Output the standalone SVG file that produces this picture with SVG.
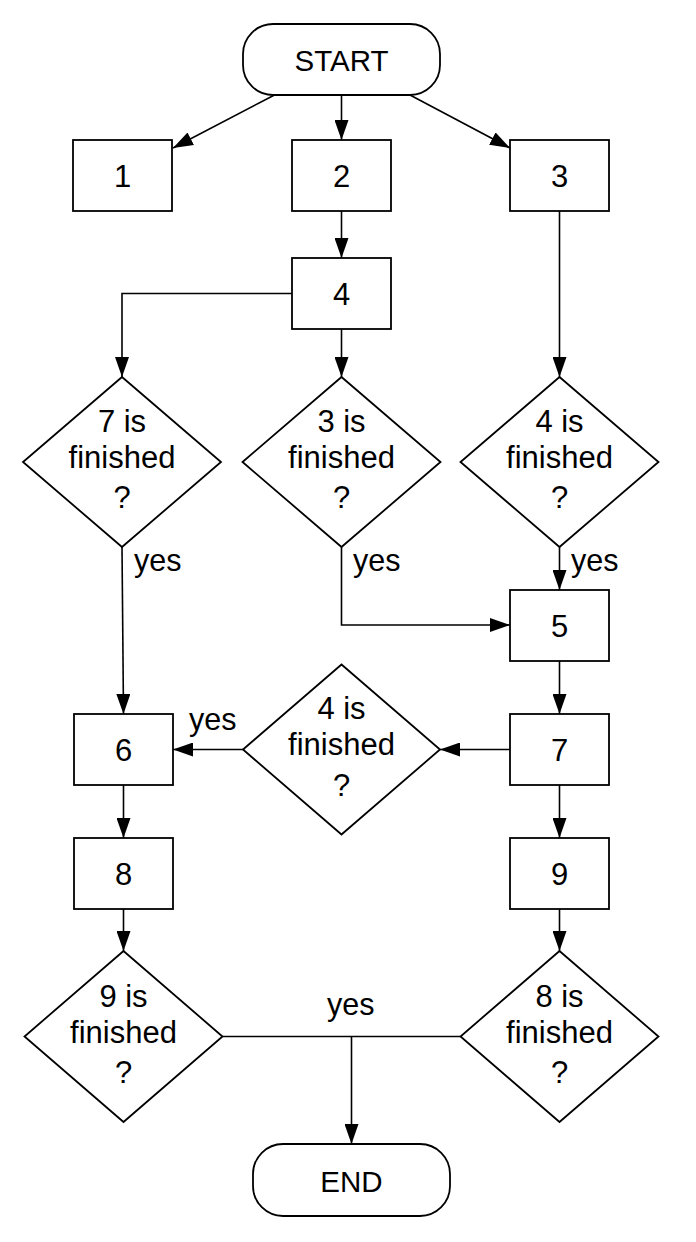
<svg xmlns="http://www.w3.org/2000/svg" width="696" height="1242" viewBox="0 0 696 1242">
<style>
.shape{fill:#fff;stroke:#000;stroke-width:1.8}
.conn{fill:none;stroke:#000;stroke-width:1.6}
.t{font-family:"Liberation Sans",Arial,sans-serif;font-size:31px;fill:#000;text-anchor:middle}
.term{font-family:"Liberation Sans",Arial,sans-serif;font-size:29.5px;fill:#000;text-anchor:middle}
.lbl{font-family:"Liberation Sans",Arial,sans-serif;font-size:30.5px;fill:#000}
</style>
<defs>
<marker id="arr" markerUnits="userSpaceOnUse" markerWidth="20" markerHeight="14" viewBox="0 0 20 14" refX="20" refY="7" orient="auto">
<path d="M0,0 L20,7 L0,14 z" fill="#000"/>
</marker>
</defs>
<rect width="696" height="1242" fill="#fff"/>
<g id="connectors">
<path class="conn" d="M274.5,95 L173,148" marker-end="url(#arr)"/>
<path class="conn" d="M341.5,95 V140" marker-end="url(#arr)"/>
<path class="conn" d="M410,95 L510,148" marker-end="url(#arr)"/>
<path class="conn" d="M341.5,211 V258" marker-end="url(#arr)"/>
<path class="conn" d="M292,293.5 H122 V377" marker-end="url(#arr)"/>
<path class="conn" d="M341.5,329 V377" marker-end="url(#arr)"/>
<path class="conn" d="M559.5,211 V377" marker-end="url(#arr)"/>
<path class="conn" d="M122,547 L123.5,714" marker-end="url(#arr)"/>
<path class="conn" d="M341.5,547 V625 H510" marker-end="url(#arr)"/>
<path class="conn" d="M559.5,547 V590" marker-end="url(#arr)"/>
<path class="conn" d="M559.5,661 V714" marker-end="url(#arr)"/>
<path class="conn" d="M510,749.5 H440" marker-end="url(#arr)"/>
<path class="conn" d="M243,749.5 H173" marker-end="url(#arr)"/>
<path class="conn" d="M123.5,785 V838" marker-end="url(#arr)"/>
<path class="conn" d="M559.5,785 V838" marker-end="url(#arr)"/>
<path class="conn" d="M123.5,909 V951" marker-end="url(#arr)"/>
<path class="conn" d="M559.5,909 V951" marker-end="url(#arr)"/>
<path class="conn" d="M223,1036.5 H460"/>
<path class="conn" d="M351.5,1036.5 V1144" marker-end="url(#arr)"/>
<text class="lbl" x="134" y="571">yes</text>
<text class="lbl" x="353" y="571">yes</text>
<text class="lbl" x="571" y="571">yes</text>
<text class="lbl" x="189" y="730">yes</text>
<text class="lbl" x="327" y="1015">yes</text>
</g>
<g id="start"><rect class="shape" x="243" y="24" width="197" height="71" rx="30" ry="30"/><text class="term" x="341.5" y="71">START</text></g>
<g id="n1"><rect class="shape" x="73" y="140" width="99" height="71"/><text class="t" x="122.5" y="187">1</text></g>
<g id="n2"><rect class="shape" x="292" y="140" width="99" height="71"/><text class="t" x="341.5" y="187">2</text></g>
<g id="n3"><rect class="shape" x="510" y="140" width="99" height="71"/><text class="t" x="559.5" y="187">3</text></g>
<g id="n4"><rect class="shape" x="292" y="258" width="99" height="71"/><text class="t" x="341.5" y="305">4</text></g>
<g id="d7"><polygon class="shape" points="122,377 221,462 122,547 23,462"/><text class="t" x="122" y="432">7 is</text><text class="t" x="122" y="468">finished</text><text class="t" x="122" y="508">?</text></g>
<g id="d3"><polygon class="shape" points="341.5,377 440.5,462 341.5,547 242.5,462"/><text class="t" x="341.5" y="432">3 is</text><text class="t" x="341.5" y="468">finished</text><text class="t" x="341.5" y="508">?</text></g>
<g id="d4a"><polygon class="shape" points="559.5,377 658.5,462 559.5,547 460.5,462"/><text class="t" x="559.5" y="432">4 is</text><text class="t" x="559.5" y="468">finished</text><text class="t" x="559.5" y="508">?</text></g>
<g id="n5"><rect class="shape" x="510" y="590" width="99" height="71"/><text class="t" x="559.5" y="637">5</text></g>
<g id="n6"><rect class="shape" x="74" y="714" width="99" height="71"/><text class="t" x="123.5" y="761">6</text></g>
<g id="d4b"><polygon class="shape" points="341.5,664.5 440,749.5 341.5,834.5 243,749.5"/><text class="t" x="341.5" y="719">4 is</text><text class="t" x="341.5" y="755">finished</text><text class="t" x="341.5" y="796">?</text></g>
<g id="n7"><rect class="shape" x="510" y="714" width="99" height="71"/><text class="t" x="559.5" y="761">7</text></g>
<g id="n8"><rect class="shape" x="74" y="838" width="99" height="71"/><text class="t" x="123.5" y="885">8</text></g>
<g id="n9"><rect class="shape" x="510" y="838" width="99" height="71"/><text class="t" x="559.5" y="885">9</text></g>
<g id="d9"><polygon class="shape" points="123.5,951 222.5,1036.5 123.5,1122 24.5,1036.5"/><text class="t" x="123.5" y="1007">9 is</text><text class="t" x="123.5" y="1043">finished</text><text class="t" x="123.5" y="1083">?</text></g>
<g id="d8"><polygon class="shape" points="559.5,951 658.5,1036.5 559.5,1122 460.5,1036.5"/><text class="t" x="559.5" y="1007">8 is</text><text class="t" x="559.5" y="1043">finished</text><text class="t" x="559.5" y="1083">?</text></g>
<g id="end"><rect class="shape" x="253" y="1144" width="197" height="72" rx="30" ry="30"/><text class="term" x="351.5" y="1192">END</text></g>
</svg>
